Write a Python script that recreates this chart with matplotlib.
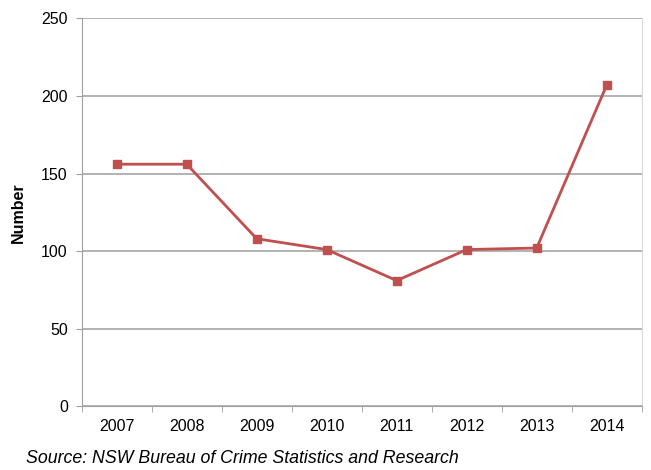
import matplotlib.pyplot as plt

years = ['2007', '2008', '2009', '2010', '2011', '2012', '2013', '2014']
counts = [156, 156, 108, 101, 81, 101, 102, 207]

plt.rcParams['font.family'] = ['Liberation Sans', 'DejaVu Sans']

fig = plt.figure(figsize=(6.51, 4.70), dpi=100)
ax = fig.add_axes([0.1255, 0.1355, 0.8602, 0.8255])

x = list(range(len(years)))
ax.plot(x, counts, color='#C0504D', linewidth=2, marker='s', markersize=5.5)

ax.set_xlim(-0.5, len(years) - 0.5)
ax.set_ylim(0, 250)
ax.set_yticks(range(0, 251, 50))
ax.set_xticks(x)
ax.set_xticklabels(years)
ax.set_xticks([i - 0.5 for i in range(len(years) + 1)], minor=True)
ax.tick_params(axis='x', which='major', length=0, pad=9, labelsize=11.5)
ax.tick_params(axis='x', which='minor', length=4, color='#A0A0A0')
ax.tick_params(axis='y', length=4, color='#A0A0A0', labelsize=11.5, pad=6)

ax.grid(axis='y', color='#A6A6A6', linewidth=1.2)
ax.set_axisbelow(True)
for side in ['left', 'bottom']:
    ax.spines[side].set_color('#A0A0A0')
ax.spines['right'].set_color('#D9D9D9')
ax.spines['top'].set_visible(False)

ax.set_ylabel('Number', fontsize=11.5, fontweight='bold')
ax.yaxis.set_label_coords(-0.1, 0.5)

fig.text(0.04, 0.006, 'Source: NSW Bureau of Crime Statistics and Research',
         fontsize=12.8, style='italic', ha='left', va='bottom')

fig.savefig('out.png', dpi=100)
